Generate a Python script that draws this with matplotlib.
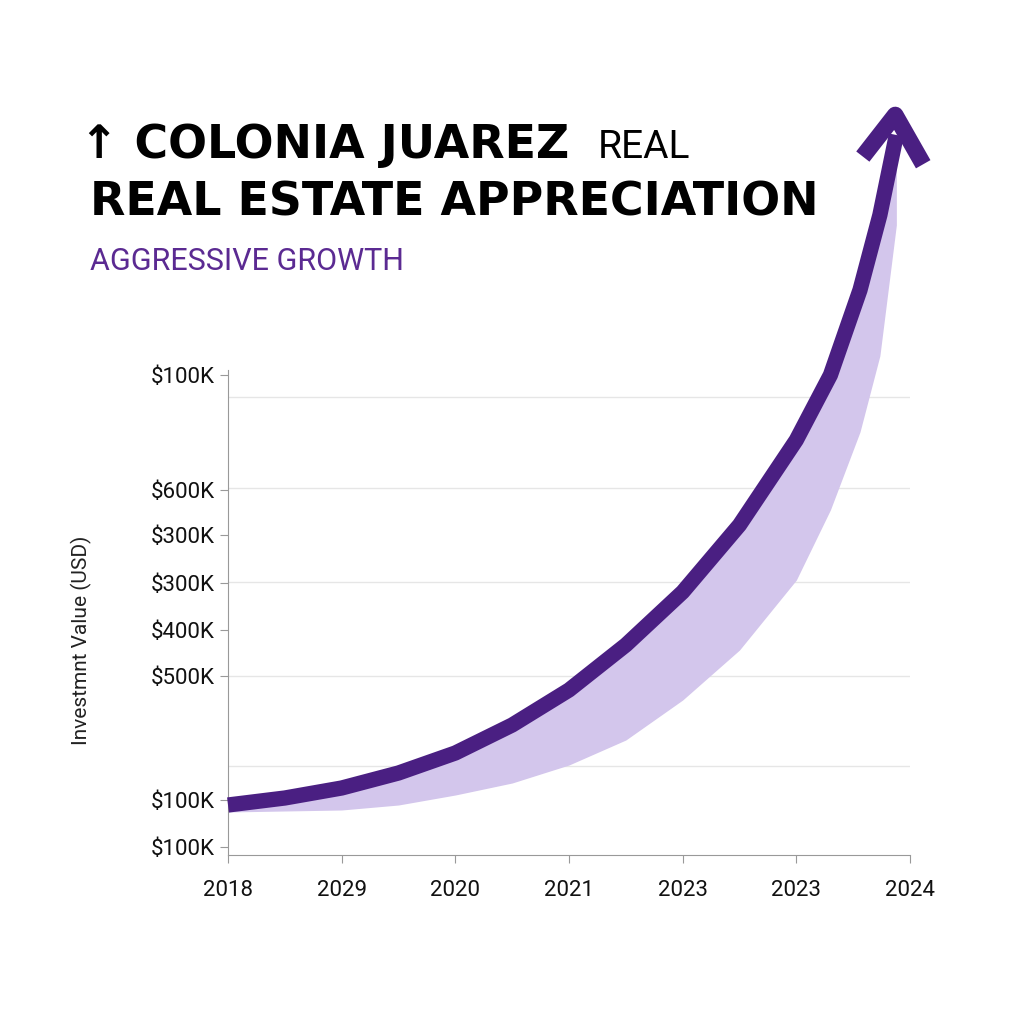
import matplotlib.pyplot as plt
import numpy as np

plt.rcParams['font.family'] = ['Roboto', 'DejaVu Sans']

# x positions in year-slot units, y in chart units (0 = axis bottom)
years = ['2018', '2029', '2020', '2021', '2023', '2023', '2024']
tick_vals = [480, 365, 320, 272, 225, 179, 55, 8]
tick_labels = ['$100K', '$600K', '$300K', '$300K', '$400K', '$500K', '$100K', '$100K']
grid_vals = [458, 367, 273, 179, 89]

line_x = [0.0, 0.5, 1.0, 1.5, 2.0, 2.5, 3.0, 3.5, 4.0, 4.5, 5.0, 5.3, 5.56, 5.735, 5.88]
line_y = [50, 57, 67, 82, 102, 130, 165, 210, 263, 330, 415, 480, 565, 640, 720]
low_x = [0.0, 1.0, 1.5, 2.0, 2.5, 3.0, 3.5, 4.0, 4.5, 5.0, 5.47, 5.73, 5.86, 5.94]
low_y = [43, 45, 50, 60, 72, 90, 115, 155, 205, 275, 385, 495, 605, 705]

fig = plt.figure(figsize=(10.24, 10.24), dpi=100)
# axes: x 228..910 px, y from 855 px (bottom) to 90 px (top)
ax = fig.add_axes([228/1024, (1024-855)/1024, 682/1024, 765/1024])
ax.set_xlim(0, 6)
ax.set_ylim(0, 765)

for g in grid_vals:
    ax.axhline(g, color='#e6e6e6', lw=1, zorder=0)

ax.fill_between(line_x, line_y, np.interp(line_x, low_x, low_y), color='#d3c6ec', lw=0, zorder=1)
ax.plot(line_x, line_y, color='#4a1f82', lw=11, solid_capstyle='butt', solid_joinstyle='round', zorder=3, clip_on=False)
ax.plot([5.63, 5.87, 6.08], [705, 740, 698], color='#4a1f82', lw=12, zorder=3, clip_on=False)

for s in ['top', 'right']:
    ax.spines[s].set_visible(False)
ax.spines['left'].set_bounds(0, 485)
ax.spines['left'].set_color('#999999')
ax.spines['bottom'].set_color('#999999')
ax.set_xticks(range(7))
ax.set_xticklabels(years, fontsize=16)
ax.set_yticks(tick_vals)
ax.set_yticklabels(tick_labels, fontsize=16)
ax.tick_params(colors='#999999', labelcolor='#111111', length=6)
ax.tick_params(axis='x', pad=12)
ax.set_ylabel('Investmnt Value (USD)', fontsize=15, color='#222222')
ax.yaxis.set_label_coords(-0.2, 0.28)

fig.text(80/1024, 1-145/1024, '↑ COLONIA JUAREZ', fontsize=33, fontweight='bold', va='center',
         family=['DejaVu Sans'])
fig.text(598/1024, 1-148/1024, 'REAL', fontsize=28, va='center')
fig.text(90/1024, 1-203/1024, 'REAL ESTATE APPRECIATION', fontsize=33, fontweight='bold', va='center',
         family=['DejaVu Sans'])
fig.text(90/1024, 1-262/1024, 'AGGRESSIVE GROWTH', fontsize=22, color='#5b2a92', va='center')

fig.savefig('out.png', dpi=100)
